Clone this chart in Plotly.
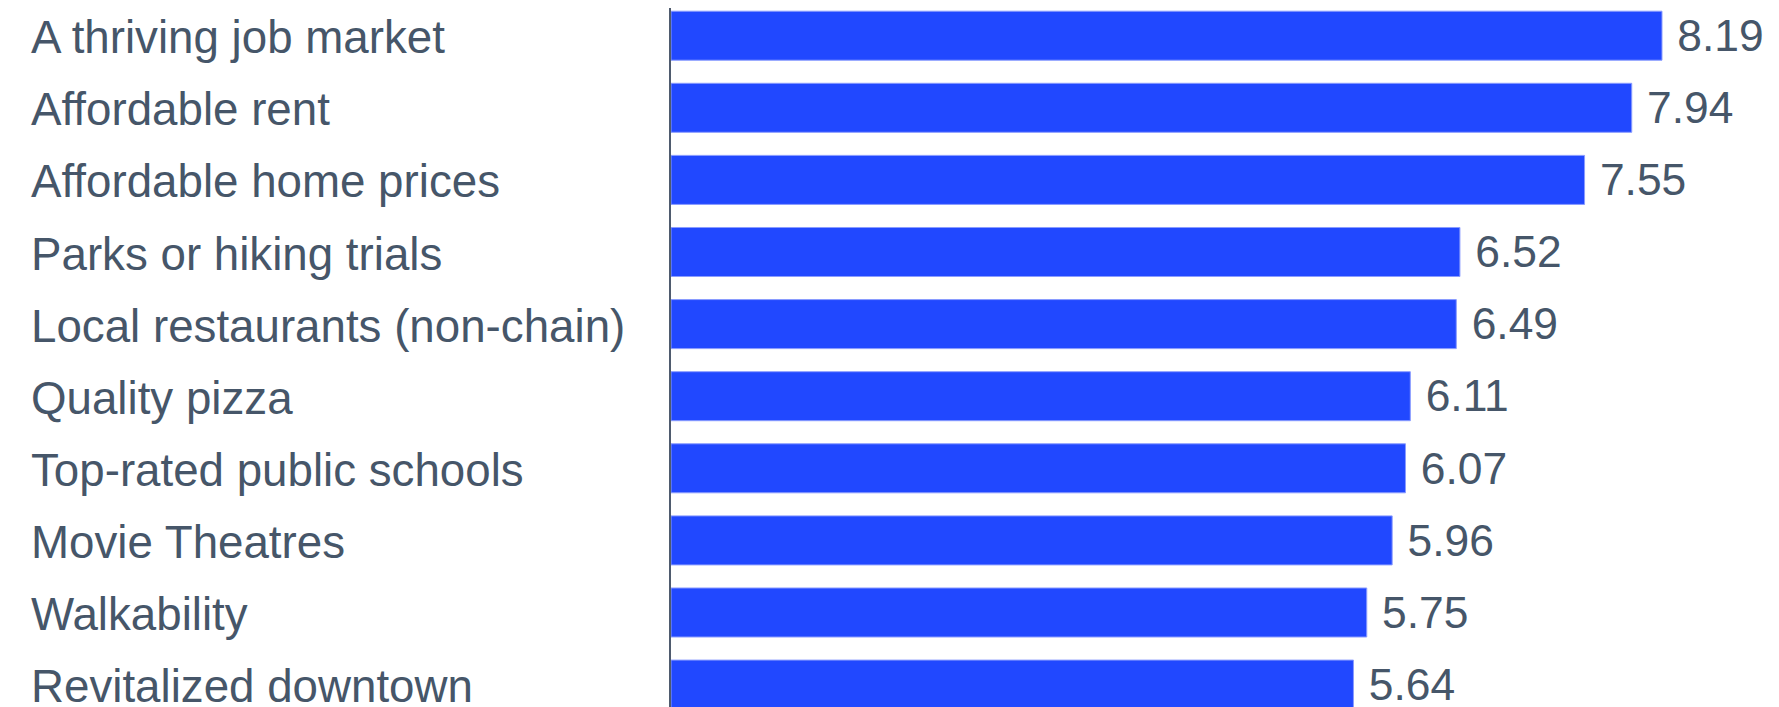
import plotly.graph_objects as go

categories = [
    "A thriving job market",
    "Affordable rent",
    "Affordable home prices",
    "Parks or hiking trials",
    "Local restaurants (non-chain)",
    "Quality pizza",
    "Top-rated public schools",
    "Movie Theatres",
    "Walkability",
    "Revitalized downtown",
]
values = [8.19, 7.94, 7.55, 6.52, 6.49, 6.11, 6.07, 5.96, 5.75, 5.64]

# page body has an 8px margin; compensate so the figure lands where the reference is
OFF = 8
W, H = 1779 - OFF, 707 - OFF
L = 671 - OFF
plot_w = W - L
px_per_unit = 121.0
x_max = plot_w / px_per_unit

pitch = 72.1
top_idx = -(35.7 - OFF) / pitch
bot_idx = top_idx + H / pitch

FONT = "Liberation Sans, Arial, sans-serif"
TEXT_COLOR = "#465669"
BAR_COLOR = "#2148ff"

fig = go.Figure()
fig.add_trace(go.Bar(
    x=values,
    y=categories,
    orientation="h",
    width=0.68,
    marker=dict(color=BAR_COLOR, line=dict(color="#8a9cff", width=1)),
    text=["\u00a0" + f"{v:.2f}" for v in values],
    textposition="outside",
    cliponaxis=False,
    textfont=dict(family=FONT, size=48, color=TEXT_COLOR),
    hoverinfo="skip",
))

label_x = (28.7 - OFF - L) / plot_w
for c in categories:
    fig.add_annotation(
        x=label_x, xref="paper", xanchor="left",
        y=c, yref="y", yanchor="middle", yshift=-2,
        text=c, showarrow=False,
        font=dict(family=FONT, size=45.7, color=TEXT_COLOR),
    )

fig.update_layout(
    width=W, height=H,
    margin=dict(l=L, r=0, t=0, b=0, pad=0),
    paper_bgcolor="white", plot_bgcolor="white",
    showlegend=False,
    xaxis=dict(range=[0, x_max], showgrid=False, zeroline=False,
               showticklabels=False, showline=False, ticks=""),
    yaxis=dict(type="category", categoryorder="array", categoryarray=categories,
               range=[bot_idx, top_idx], showgrid=False, zeroline=False,
               showticklabels=False, ticks="",
               showline=True, linecolor="#4f5b6e", linewidth=2),
)

fig.write_html("out.html")
